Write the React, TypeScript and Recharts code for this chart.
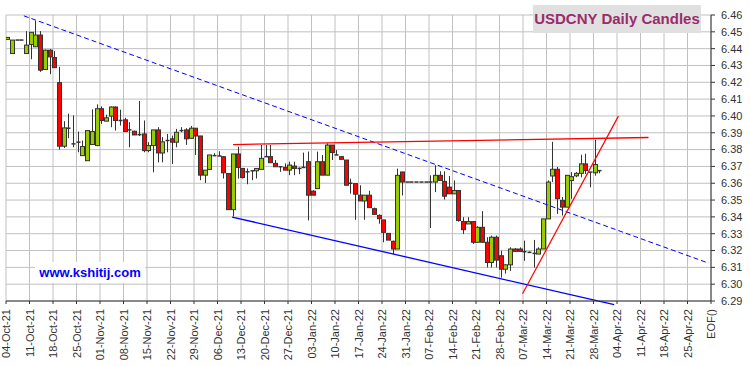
import { ComposedChart, Bar, XAxis, YAxis, CartesianGrid, ReferenceLine } from 'recharts'

// daily USD/CNY candles, one per weekday from 04-Oct-21 (holidays are flat)
const openVals = [
  6.4455, 6.4371, 6.4451, 6.4451, 6.4371, 6.4425, 6.4411, 6.4481, 6.4276, 6.4391,
  6.4347, 6.4198, 6.382, 6.3927, 6.3834, 6.3844, 6.3764, 6.3734, 6.383, 6.3824,
  6.4043, 6.3969, 6.3999, 6.4053, 6.3973, 6.3977, 6.3917, 6.3909, 6.3889, 6.3893,
  6.3794, 6.3824, 6.3917, 6.378, 6.3854, 6.3864, 6.3844, 6.3913, 6.3917, 6.3867,
  6.3927, 6.3881, 6.3648, 6.3682, 6.3764, 6.3762, 6.3758, 6.3658, 6.3443, 6.3774,
  6.3688, 6.3668, 6.3674, 6.3674, 6.3682, 6.3758, 6.3758, 6.3718, 6.3698, 6.3694,
  6.3678, 6.3702, 6.3688, 6.3694, 6.3728, 6.3553, 6.3568, 6.3728, 6.3648, 6.3827,
  6.3768, 6.3758, 6.3738, 6.3594, 6.3598, 6.3529, 6.3495, 6.3529, 6.3449, 6.3409,
  6.3382, 6.3302, 6.3255, 6.3209, 6.3667, 6.3607, 6.3607, 6.3607, 6.3607, 6.3607,
  6.3607, 6.3607, 6.3647, 6.3611, 6.3577, 6.3537, 6.3557, 6.3372, 6.3358, 6.3372,
  6.3249, 6.3338, 6.3249, 6.3129, 6.3279, 6.3169, 6.3089, 6.3115, 6.3209, 6.3209,
  6.3193, 6.3189, 6.3183, 6.3179, 6.3209, 6.3388, 6.3643, 6.3683, 6.3498, 6.3458,
  6.3616, 6.3644, 6.3659, 6.3715, 6.3666, 6.3662, 6.3675,
]
const highVals = [
  6.4467, 6.4451, 6.4451, 6.4451, 6.4504, 6.4497, 6.4566, 6.4504, 6.4395, 6.4397,
  6.4385, 6.4292, 6.3969, 6.4013, 6.4003, 6.3907, 6.3854, 6.3913, 6.4039, 6.4069,
  6.4057, 6.4007, 6.4057, 6.4057, 6.4037, 6.3989, 6.3963, 6.3913, 6.4089, 6.3973,
  6.3844, 6.3917, 6.3933, 6.3874, 6.3893, 6.3883, 6.3923, 6.3933, 6.3927, 6.394,
  6.3927, 6.3881, 6.3678, 6.3768, 6.3778, 6.379, 6.3762, 6.3658, 6.3774, 6.3817,
  6.3688, 6.3688, 6.3674, 6.3688, 6.3827, 6.3827, 6.3827, 6.3738, 6.3698, 6.3718,
  6.3728, 6.3728, 6.3694, 6.3782, 6.3788, 6.3559, 6.3788, 6.3768, 6.3837, 6.3827,
  6.3797, 6.3758, 6.3738, 6.3628, 6.3598, 6.3588, 6.3529, 6.3555, 6.3455, 6.3415,
  6.3382, 6.3302, 6.3259, 6.3687, 6.3667, 6.3607, 6.3607, 6.3607, 6.3607, 6.3607,
  6.3647, 6.3707, 6.3671, 6.3671, 6.3643, 6.3617, 6.3557, 6.3398, 6.3398, 6.3372,
  6.3344, 6.3434, 6.3279, 6.3289, 6.3289, 6.3199, 6.3119, 6.3219, 6.3215, 6.3219,
  6.3259, 6.3195, 6.3263, 6.3219, 6.3388, 6.3617, 6.3846, 6.3697, 6.3518, 6.3647,
  6.3666, 6.3666, 6.3769, 6.3775, 6.3666, 6.3858, 6.3675,
]
const lowVals = [
  6.4455, 6.4371, 6.4451, 6.4451, 6.4371, 6.4337, 6.4411, 6.4262, 6.4276, 6.4248,
  6.4287, 6.38, 6.381, 6.3868, 6.3814, 6.3784, 6.3764, 6.3734, 6.383, 6.382,
  6.3953, 6.3969, 6.3933, 6.3913, 6.3943, 6.3907, 6.3814, 6.3887, 6.388, 6.3784,
  6.3784, 6.3665, 6.3724, 6.3724, 6.3784, 6.3714, 6.3814, 6.3903, 6.3828, 6.3867,
  6.3768, 6.3618, 6.3602, 6.3682, 6.3764, 6.3762, 6.3628, 6.3443, 6.3403, 6.3628,
  6.3628, 6.3594, 6.3618, 6.3628, 6.3682, 6.3758, 6.3722, 6.3698, 6.3668, 6.3678,
  6.3648, 6.3648, 6.3654, 6.3694, 6.3379, 6.3529, 6.3568, 6.3648, 6.3648, 6.3738,
  6.3768, 6.3742, 6.3588, 6.3538, 6.3383, 6.3495, 6.3383, 6.3455, 6.3415, 6.3359,
  6.3249, 6.3262, 6.3179, 6.3209, 6.3527, 6.3607, 6.3607, 6.3607, 6.3607, 6.3607,
  6.3334, 6.3547, 6.3617, 6.3503, 6.3537, 6.3537, 6.3372, 6.3298, 6.3358, 6.3239,
  6.3249, 6.3249, 6.3099, 6.3099, 6.3099, 6.3039, 6.3063, 6.3079, 6.3195, 6.3195,
  6.3139, 6.3185, 6.3099, 6.3179, 6.3209, 6.3388, 6.3607, 6.3418, 6.3408, 6.3458,
  6.3507, 6.3636, 6.3635, 6.3655, 6.3576, 6.3645, 6.3659,
]
const closeVals = [
  6.4467, 6.4451, 6.4451, 6.4451, 6.4421, 6.4497, 6.4481, 6.4272, 6.4391, 6.4351,
  6.4287, 6.382, 6.3929, 6.3927, 6.3834, 6.3844, 6.3818, 6.3913, 6.3907, 6.4043,
  6.3973, 6.3989, 6.4053, 6.3973, 6.3973, 6.3907, 6.3917, 6.3887, 6.3889, 6.3794,
  6.3824, 6.3917, 6.378, 6.3846, 6.3854, 6.3844, 6.3903, 6.3913, 6.3864, 6.3927,
  6.3881, 6.3648, 6.3678, 6.3768, 6.3764, 6.3762, 6.3662, 6.3443, 6.3774, 6.3694,
  6.3634, 6.3668, 6.3674, 6.3688, 6.3748, 6.3758, 6.3722, 6.3698, 6.3698, 6.3678,
  6.3708, 6.3688, 6.3688, 6.3694, 6.3529, 6.3529, 6.3728, 6.3648, 6.3827, 6.3782,
  6.3768, 6.3742, 6.3588, 6.36, 6.3535, 6.3495, 6.3529, 6.3455, 6.3415, 6.3389,
  6.3308, 6.3262, 6.3209, 6.3647, 6.3607, 6.3607, 6.3607, 6.3607, 6.3607, 6.3607,
  6.3603, 6.3647, 6.3617, 6.3523, 6.3537, 6.3557, 6.3378, 6.3324, 6.3372, 6.3249,
  6.3338, 6.3249, 6.3129, 6.3279, 6.3143, 6.3089, 6.3115, 6.3209, 6.3195, 6.3195,
  6.3193, 6.3189, 6.3183, 6.3209, 6.3388, 6.3607, 6.3683, 6.3508, 6.3458, 6.3647,
  6.3639, 6.3659, 6.3715, 6.3675, 6.3666, 6.3711, 6.3675,
]

const weekLabels = [
  '04-Oct-21', '11-Oct-21', '18-Oct-21', '25-Oct-21', '01-Nov-21', '08-Nov-21',
  '15-Nov-21', '22-Nov-21', '29-Nov-21', '06-Dec-21', '13-Dec-21', '20-Dec-21',
  '27-Dec-21', '03-Jan-22', '10-Jan-22', '17-Jan-22', '24-Jan-22', '31-Jan-22',
  '07-Feb-22', '14-Feb-22', '21-Feb-22', '28-Feb-22', '07-Mar-22', '14-Mar-22',
  '21-Mar-22', '28-Mar-22', '04-Apr-22', '11-Apr-22', '18-Apr-22', '25-Apr-22',
  'EOF()',
]
const yTicks = [
  6.29, 6.3, 6.31, 6.32, 6.33, 6.34, 6.35, 6.36, 6.37, 6.38, 6.39, 6.4, 6.41,
  6.42, 6.43, 6.44, 6.45, 6.46,
]

// trend lines drawn on the chart: [x1, y1, x2, y2] in (day index, price)
const upperChannel = [3.8, 6.4595, 149.5, 6.3125]
const lowerChannel = [48.1, 6.3399, 129.4, 6.2878]
const resistance = [48.3, 6.383, 136.7, 6.3872]
const supportUp = [109.9, 6.2943, 130.3, 6.3999]

const font = 'Arial, "Liberation Sans", sans-serif'
const xTicks = weekLabels.map((_, k) => k * 5)

const data = openVals.map((o, i) => ({
  x: i + 0.35,
  open: o,
  high: highVals[i],
  low: lowVals[i],
  close: closeVals[i],
  range: [lowVals[i], highVals[i]],
}))

function Candle(props: any) {
  const { x, y, width, height, payload } = props
  const cx = Math.round(x + width / 2) + 0.5
  const top = Math.min(y, y + height)
  const h = Math.abs(height)
  const span = payload.high - payload.low
  const py = (v: number) => (span > 0 ? top + ((payload.high - v) / span) * h : top)
  const yo = py(payload.open)
  const yc = py(payload.close)
  const bTop = Math.min(yo, yc)
  const bH = Math.abs(yo - yc)
  const up = payload.close >= payload.open
  return (
    <g>
      {h > 0.5 && <line x1={cx} x2={cx} y1={top} y2={top + h} stroke="#333" strokeWidth={1} />}
      {bH < 1.2 ? (
        <line x1={cx - 2} x2={cx + 2} y1={bTop} y2={bTop} stroke="#333" strokeWidth={1.5} />
      ) : (
        <rect x={cx - 2} y={bTop} width={4} height={bH} fill={up ? '#99cc00' : '#ff0000'} stroke="#333" strokeWidth={1} />
      )}
    </g>
  )
}

function DateTick(props: any) {
  const { x, y, payload } = props
  const label = weekLabels[Math.round(payload.value / 5)]
  const ax = x + 4
  const ay = y + 3
  return (
    <text x={ax} y={ay} transform={`rotate(-90, ${ax}, ${ay})`} textAnchor="end" fontSize={11} fontFamily={font} fill="#333">
      {label}
    </text>
  )
}

function seg(s: number[]) {
  return [
    { x: s[0], y: s[1] },
    { x: s[2], y: s[3] },
  ] as any
}

export default function App() {
  return (
    <div style={{ position: 'absolute', left: 0, top: 0, width: 750, height: 366, background: '#fff' }}>
      <ComposedChart width={750} height={366} data={data} margin={{ top: 15, right: 0, left: 6, bottom: 0 }}>
        <CartesianGrid stroke="#c0c0c0" strokeWidth={1} />
        <XAxis
          type="number"
          dataKey="x"
          domain={[0, 150]}
          ticks={xTicks}
          interval={0}
          height={65}
          tickSize={3}
          tickMargin={2}
          tick={<DateTick />}
          stroke="#333"
          allowDataOverflow
        />
        <YAxis
          orientation="right"
          type="number"
          domain={[6.29, 6.46]}
          ticks={yTicks}
          interval={0}
          width={39}
          tickSize={4}
          tickMargin={6}
          tickFormatter={(v) => Number(v).toFixed(2)}
          tick={{ fontSize: 11, fontFamily: font, fill: '#333' }}
          stroke="#333"
          allowDataOverflow
        />
        <Bar dataKey="range" barSize={4} shape={<Candle />} isAnimationActive={false} />
        <ReferenceLine segment={seg(upperChannel)} stroke="#0000ff" strokeDasharray="5 3" strokeWidth={1} ifOverflow="visible" />
        <ReferenceLine segment={seg(lowerChannel)} stroke="#0000ff" strokeWidth={1.3} ifOverflow="visible" />
        <ReferenceLine segment={seg(resistance)} stroke="#ff0000" strokeWidth={1.3} ifOverflow="visible" />
        <ReferenceLine segment={seg(supportUp)} stroke="#ff0000" strokeWidth={1.2} ifOverflow="visible" />
      </ComposedChart>
      <div
        style={{
          position: 'absolute', left: 533, top: 5, width: 168, height: 28, background: '#e0e0e0',
          color: '#9b2c6c', fontFamily: font, fontWeight: 'bold', fontSize: 15, lineHeight: '28px', textAlign: 'center',
        }}
      >
        USDCNY Daily Candles
      </div>
      <div
        style={{
          position: 'absolute', left: 35, top: 262, width: 110, height: 21, background: '#fff',
          color: '#0000ff', fontFamily: font, fontWeight: 'bold', fontSize: 13, lineHeight: '21px', textAlign: 'center',
        }}
      >
        www.kshitij.com
      </div>
    </div>
  )
}
